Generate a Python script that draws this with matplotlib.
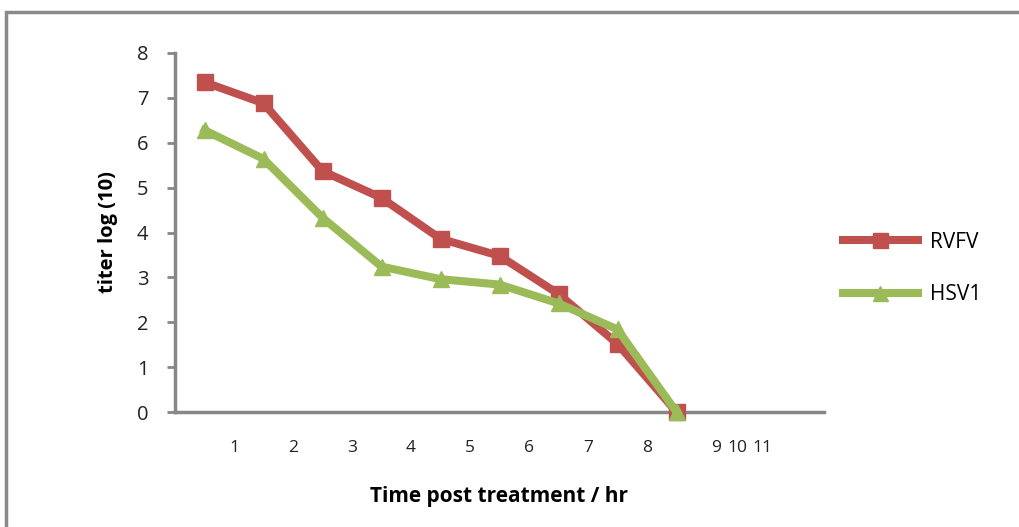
import matplotlib
matplotlib.use("Agg")
from matplotlib import pyplot as plt
from matplotlib.patches import Rectangle
import numpy as np

# data (points sit in the middle of each category)
categories = [1, 2, 3, 4, 5, 6, 7, 8, 9]
rvfv = [7.35, 6.88, 5.37, 4.77, 3.86, 3.48, 2.63, 1.52, 0.0]
hsv1 = [6.28, 5.64, 4.33, 3.24, 2.96, 2.84, 2.42, 1.84, 0.0]
tick_labels = ['1', '2', '3', '4', '5', '6', '7', '8', '9', '10', '11']
tick_pos = [1, 2, 3, 4, 5, 6, 7, 8, 9.17, 9.54, 9.95]

plt.rcParams['font.family'] = ['Open Sans', 'DejaVu Sans']

fig = plt.figure(figsize=(10.19, 5.27), dpi=100)
ax = fig.add_axes([175/1019, 1 - 412/527, 649/1019, 359/527])

x = np.array(categories) - 0.5
ax.plot(x, rvfv, color='#C0504D', lw=5.8, marker='s', markersize=12,
        label='RVFV', clip_on=False, zorder=3)
ax.plot(x, hsv1, color='#9BBB59', lw=5.8, marker='^', markersize=12,
        label='HSV1', clip_on=False, zorder=4)

ax.set_xlim(0, 11)
ax.set_ylim(0, 8)
ax.set_yticks(range(0, 9))
ax.set_xticks(tick_pos)
ax.set_xticklabels(tick_labels, fontsize=12.5)
ax.tick_params(axis='x', length=0, pad=20, colors='#222222')
ax.tick_params(axis='y', length=6, width=2, color='#868686', labelsize=14.5,
               pad=13, labelcolor='#222222')

for s in ['top', 'right']:
    ax.spines[s].set_visible(False)
for s in ['left', 'bottom']:
    ax.spines[s].set_color('#868686')
    ax.spines[s].set_linewidth(2.5)

ax.set_ylabel('titer log (10)', fontsize=14.5, fontweight='bold', labelpad=14)
ax.set_xlabel('Time post treatment / hr', fontsize=15, fontweight='bold', labelpad=22)

ax.legend(loc='center left', bbox_to_anchor=(1.0, 0.40), frameon=False,
          fontsize=15, handlelength=3.6, labelspacing=1.5, handletextpad=0.6,
          markerscale=0.9)

# outer frame around the figure
fig.patches.append(Rectangle((6/1019, -0.2), 1.2, 1 - 12/527 + 0.2,
                             transform=fig.transFigure, fill=False,
                             edgecolor='#8a8a8a', lw=2.5))

fig.savefig('out.png', dpi=100)
